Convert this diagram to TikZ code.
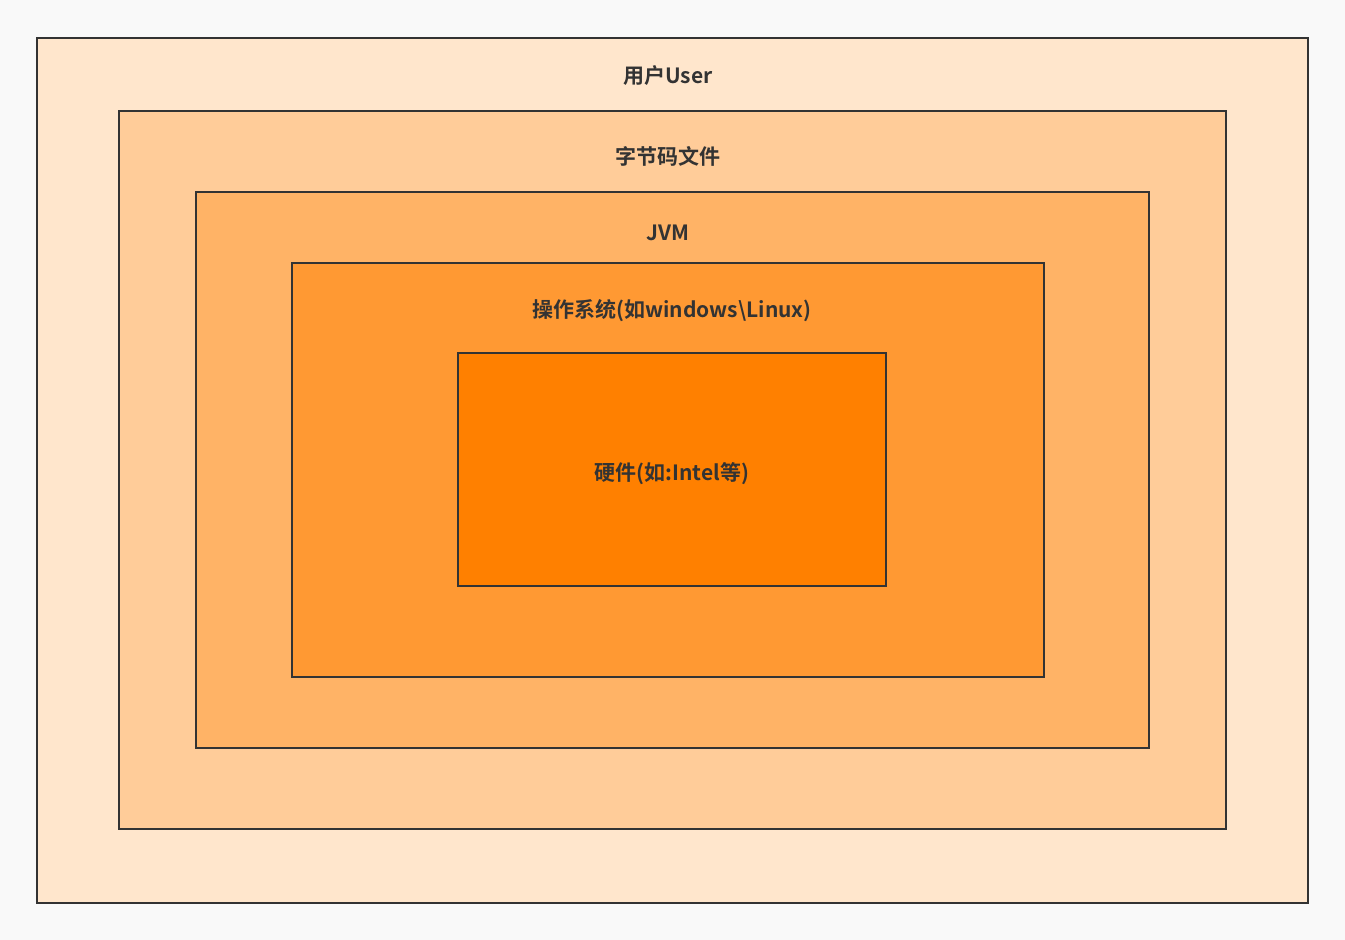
\documentclass[tikz,border=0pt]{standalone}
\usepackage{fontspec}
\setmainfont{Noto Sans CJK SC}[BoldFont={Noto Sans CJK SC Bold}]
\definecolor{bg}{HTML}{F9F9F9}
\definecolor{c1}{HTML}{FFE6CC}
\definecolor{c2}{HTML}{FFCC99}
\definecolor{c3}{HTML}{FFB366}
\definecolor{c4}{HTML}{FF9933}
\definecolor{c5}{HTML}{FF8000}
\definecolor{ln}{HTML}{333333}
\begin{document}
\begin{tikzpicture}[x=1pt,y=-1pt,
  layer/.style={draw=ln,line width=2.5pt},
  lbl/.style={font=\bfseries\fontsize{21}{25}\selectfont,text=ln}]
\fill[bg] (0,0) rectangle (1345,940);
\useasboundingbox (0,0) rectangle (1345,940);
\draw[layer,fill=c1] (37,38) rectangle (1308,903);
\draw[layer,fill=c2] (119,111) rectangle (1226,829);
\draw[layer,fill=c3] (196,192) rectangle (1149,748);
\draw[layer,fill=c4] (292,263) rectangle (1044,677);
\draw[layer,fill=c5] (458,353) rectangle (886,586);
\node[lbl] (l1) at (668,76) {用户User};
\node[lbl] (l2) at (668,156) {字节码文件};
\node[lbl] (l3) at (668,233) {JVM};
\node[lbl] (l4) at (672,311) {操作系统(如windows\textbackslash Linux)};
\node[lbl] (l5) at (672,474) {硬件(如:Intel等)};
\end{tikzpicture}
\end{document}
